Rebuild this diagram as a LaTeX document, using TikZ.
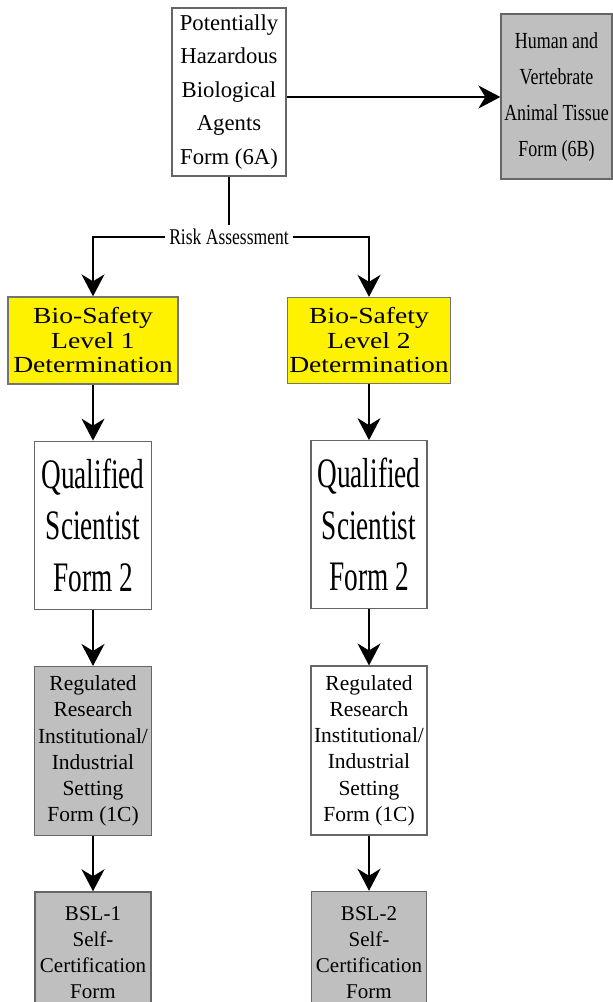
\documentclass[tikz,border=0pt]{standalone}
\usepackage{fontspec}
\setmainfont{Liberation Serif}
\newfontfamily\narrowfont[FakeStretch=0.78]{Liberation Serif}
\newfontfamily\tallfont[FakeStretch=0.65]{Liberation Serif}
\newfontfamily\levelfont[FakeStretch=1.2]{Liberation Serif}
\usetikzlibrary{arrows.meta,positioning}

\begin{document}
\begin{tikzpicture}[
    x=1pt, y=-1pt,
    box/.style={draw=black!60, line width=1.3pt, rectangle, align=center, inner sep=0pt},
    formbox/.style={box, fill=white},
    greybox/.style={box, fill=black!25},
    levelbox/.style={box, fill=yellow, draw=black!55},
    link/.style={-{Stealth[length=22pt, width=23pt, inset=7pt]}, line width=2pt}
]
    \useasboundingbox (0,0) rectangle (613,1002);

    % top row
    \node[formbox, minimum width=114pt, minimum height=168pt, font=\fontsize{22.7}{33.5}\selectfont] (form6a) at (229,92) {Potentially\\Hazardous\\Biological\\Agents\\Form (6A)};
    \node[greybox, minimum width=111pt, minimum height=165pt, font=\narrowfont\fontsize{23}{36}\selectfont] (form6b) at (556.5,96.5) {Human and\\Vertebrate\\Animal Tissue\\Form (6B)};
    \node[font=\narrowfont\fontsize{22.5}{24}\selectfont, inner sep=4pt] (risk) at (229,237) {Risk Assessment};

    % level determination
    \node[levelbox, minimum width=170pt, minimum height=87pt, font=\levelfont\fontsize{23}{24.5}\selectfont] (level1) at (93,340.5) {Bio-Safety\\Level 1\\Determination};
    \node[levelbox, minimum width=163pt, minimum height=86pt, font=\levelfont\fontsize{23}{24.5}\selectfont] (level2) at (369,340.5) {Bio-Safety\\Level 2\\Determination};

    % left column
    \node[formbox, below=56pt of level1, minimum width=117pt, minimum height=168pt, font=\tallfont\fontsize{42}{51.5}\selectfont] (qs1) {Qualified\\Scientist\\Form 2};
    \node[greybox, below=56pt of qs1, minimum width=117pt, minimum height=169pt, font=\fontsize{21.5}{26.2}\selectfont] (setting1) {Regulated\\Research\\Institutional/\\Industrial\\Setting\\Form (1C)};
    \node[greybox, below=55pt of setting1, minimum width=116pt, minimum height=122pt, font=\fontsize{21}{26}\selectfont] (cert1) {BSL-1\\Self-\\Certification\\Form};

    % right column
    \node[formbox, below=56pt of level2, minimum width=116pt, minimum height=168pt, font=\tallfont\fontsize{42}{51.5}\selectfont] (qs2) {Qualified\\Scientist\\Form 2};
    \node[formbox, below=56pt of qs2, minimum width=116pt, minimum height=169pt, font=\fontsize{21.5}{26.2}\selectfont] (setting2) {Regulated\\Research\\Institutional/\\Industrial\\Setting\\Form (1C)};
    \node[greybox, below=55pt of setting2, minimum width=115pt, minimum height=122pt, font=\fontsize{21}{26}\selectfont] (cert2) {BSL-2\\Self-\\Certification\\Form};

    \draw[link] ([yshift=-5pt]form6a.east) -- ([yshift=-5pt]form6a.east -| form6b.west);
    \draw[line width=2pt] (form6a.south) -- (risk.north);
    \draw[link] (risk.west) -| (level1.north);
    \draw[link] (risk.east) -| (level2.north);

    \draw[link] (level1.south) -- (qs1.north);
    \draw[link] (qs1.south) -- (setting1.north);
    \draw[link] (setting1.south) -- (cert1.north);
    \draw[link] (level2.south) -- (qs2.north);
    \draw[link] (qs2.south) -- (setting2.north);
    \draw[link] (setting2.south) -- (cert2.north);
\end{tikzpicture}
\end{document}
